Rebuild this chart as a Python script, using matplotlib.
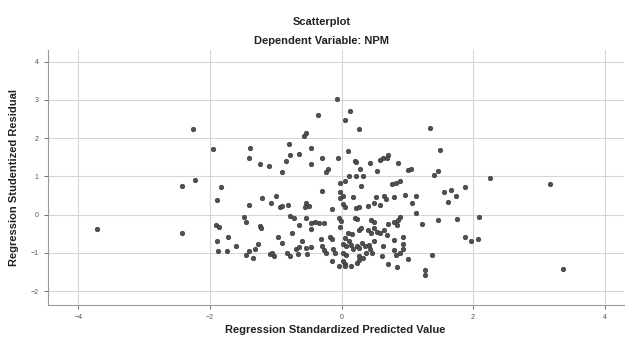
import matplotlib.pyplot as plt

# Regression standardized predicted value (x) and studentized residual (y)
pred = [
    -3.72, -2.26, -2.43, -2.23, -2.43,
    -1.95, -1.39, -1.40, -1.24, -1.11, -0.80, -0.78, -0.85, -0.64, -0.91, -0.54, -0.57,
    -1.83, -1.89, -1.41, -1.21, -1.07, -1.00, -0.94, -0.90, -0.81, -0.54,
    -1.49, -1.45, -1.91, -1.86, -1.24, -1.22, -0.78, -0.73, -0.65, -0.54,
    -1.89, -1.73, -0.96, -0.90, -0.76, -1.88, -1.74, -1.60, -1.45, -1.40, -1.35, -1.27, -1.32,
    -1.09, -1.03, -1.05, -0.83, -0.78, -0.69, -0.64, -0.66, -0.60, -0.54,
    -0.07, 0.13, -0.36, 0.06, 0.26, -0.47, -0.30, -0.46, -0.05, 0.10, 0.20, 0.22, 0.44,
    -0.21, -0.24, 0.28, 0.12, 0.22, 0.33, 0.05, -0.03, 0.30, -0.02, -0.30, 0.02, -0.03, 0.17,
    -0.50, -0.56, -0.14, 0.02, 0.06, 0.22, 0.26, 0.40, 0.50,
    -0.46, -0.41, -0.34, -0.27, -0.04, -0.01, 0.20, 0.24, 0.45, 0.49,
    -0.46, -0.03, 0.10, 0.16, 0.06, 0.27, 0.30, 0.40, 0.45, 0.50, 0.54,
    -0.31, -0.17, -0.14, -0.46, -0.30, -0.27, -0.23, -0.13, -0.10,
    0.02, 0.07, 0.12, 0.15, 0.17, 0.23, 0.27, 0.31, 0.35, 0.41, 0.44, 0.46,
    0.02, 0.07, 0.27, 0.32, 0.37, -0.15, 0.02, 0.06, 0.23, 0.27, -0.04, 0.05, 0.15, -0.53,
    1.34, 1.50, 1.46, 1.40, 0.59, 0.70, 0.63, 0.69, 0.86, 1.01, 1.05, 0.54,
    0.77, 0.83, 0.89, 0.52, 0.65, 0.67, 0.80, 0.96, 1.13, 1.07, 0.59,
    1.13, 0.89, 0.86, 0.70, 0.80, 0.84, 1.46, 1.22,
    0.58, 0.65, 0.69, 0.80, 0.93, 0.94, 0.50, 0.63, 0.79, 0.83, 0.89, 0.94,
    0.62, 1.01, 0.70, 0.85, 1.38, 1.27, 1.27,
    2.26, 3.17, 1.56, 1.66, 1.74, 1.87, 1.62, 1.76, 2.09, 1.87, 1.97, 2.08, 3.37,
]
resid = [
    -0.37, 2.23, 0.76, 0.90, -0.48,
    1.71, 1.73, 1.47, 1.33, 1.27, 1.85, 1.55, 1.40, 1.58, 1.12, 2.14, 2.06,
    0.73, 0.39, 0.25, 0.43, 0.30, 0.49, 0.19, 0.23, 0.26, 0.30,
    -0.05, -0.18, -0.27, -0.31, -0.29, -0.34, -0.03, -0.09, -0.27, -0.09,
    -0.68, -0.57, -0.57, -0.75, -0.48, -0.95, -0.96, -0.83, -1.04, -0.96, -1.14, -0.76, -0.90,
    -1.02, -1.09, -1.01, -1.01, -1.09, -0.90, -0.85, -1.02, -0.70, -0.87,
    3.02, 2.72, 2.60, 2.48, 2.23, 1.73, 1.47, 1.33, 1.47, 1.67, 1.41, 1.38, 1.36,
    1.20, 1.12, 1.19, 1.01, 1.00, 1.01, 0.89, 0.82, 0.75, 0.60, 0.63, 0.49, 0.43, 0.46,
    0.23, 0.20, 0.15, 0.28, 0.21, 0.17, 0.21, 0.23, 0.30,
    -0.21, -0.19, -0.21, -0.21, -0.09, -0.16, -0.09, -0.12, -0.15, -0.19,
    -0.38, -0.33, -0.47, -0.50, -0.61, -0.40, -0.35, -0.40, -0.47, -0.35, -0.44,
    -0.64, -0.57, -0.64, -0.85, -0.83, -0.92, -0.99, -0.90, -1.01,
    -0.76, -0.83, -0.70, -0.79, -0.90, -0.81, -0.88, -0.74, -0.83, -0.79, -0.90, -0.99,
    -0.99, -1.06, -1.08, -1.14, -1.01, -1.20, -1.22, -1.28, -1.27, -1.18, -1.34, -1.34, -1.34, -1.02,
    2.27, 1.68, 1.14, 1.03, 1.43, 1.56, 1.47, 1.47, 1.34, 1.17, 1.19, 1.13,
    0.79, 0.84, 0.89, 0.46, 0.49, 0.40, 0.47, 0.52, 0.49, 0.30, 0.26,
    0.05, -0.05, -0.15, -0.24, -0.18, -0.27, -0.14, -0.24,
    -0.48, -0.40, -0.53, -0.66, -0.59, -0.76, -0.70, -0.83, -0.92, -1.05, -1.01, -0.90,
    -1.09, -1.16, -1.28, -1.37, -1.04, -1.44, -1.57,
    0.96, 0.80, 0.60, 0.65, 0.49, 0.72, 0.32, -0.12, -0.07, -0.57, -0.70, -0.64, -1.42,
]

x_ticks = [-4, -2, 0, 2, 4]
y_ticks = [-2, -1, 0, 1, 2, 3, 4]

plt.rcParams['font.family'] = ['Liberation Sans', 'DejaVu Sans']

fig = plt.figure(figsize=(6.25, 3.38), dpi=100)
ax = fig.add_axes([0.076, 0.098, 0.922, 0.754])

ax.scatter(pred, resid, s=11, color='#505050', edgecolor='#333333', linewidth=0.4, zorder=3)

ax.set_xlim(-4.47, 4.29)
ax.set_ylim(-2.355, 4.30)
ax.set_xticks(x_ticks)
ax.set_yticks(y_ticks)
ax.grid(True, color='#d6d6d6', linewidth=0.8, zorder=0)
ax.set_axisbelow(True)

for side in ['top', 'right']:
    ax.spines[side].set_visible(False)
for side in ['left', 'bottom']:
    ax.spines[side].set_color('#9a9a9a')
    ax.spines[side].set_linewidth(0.8)
ax.tick_params(labelsize=5, colors='#555555', length=3, width=0.6)

ax.set_xlabel('Regression Standardized Predicted Value', fontsize=8, fontweight='bold',
              color='#222222', labelpad=3)
ax.set_ylabel('Regression Studentized Residual', fontsize=8, fontweight='bold',
              color='#222222', labelpad=8)

fig.text(0.515, 0.935, 'Scatterplot', ha='center', va='center', fontsize=8,
         fontweight='bold', color='#222222')
fig.text(0.515, 0.88, 'Dependent Variable: NPM', ha='center', va='center', fontsize=8,
         fontweight='bold', color='#222222')

fig.savefig('out.png', dpi=100)
